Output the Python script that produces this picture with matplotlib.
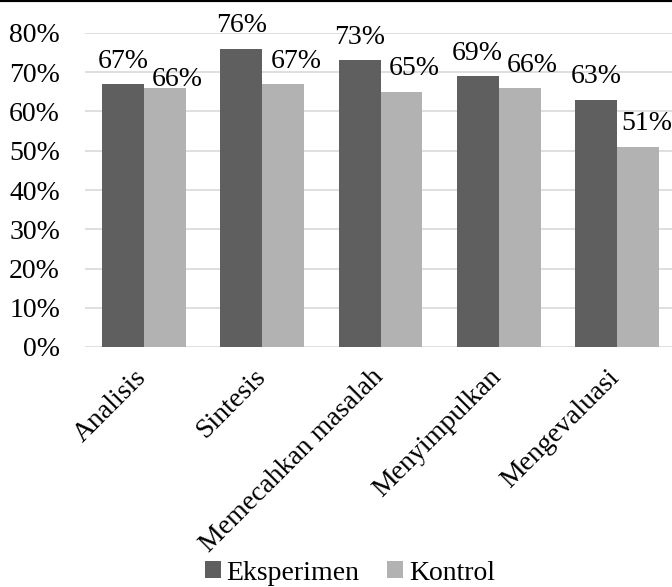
import matplotlib
matplotlib.use("Agg")
import matplotlib.pyplot as plt
import numpy as np
from matplotlib.ticker import FuncFormatter
import matplotlib.transforms as mtransforms

categories = ["Analisis", "Sintesis", "Memecahkan masalah", "Menyimpulkan", "Mengevaluasi"]
eksperimen = [67, 76, 73, 69, 63]
kontrol = [66, 67, 65, 66, 51]
series_names = ["Eksperimen", "Kontrol"]
yticks = [0, 10, 20, 30, 40, 50, 60, 70, 80]

plt.rcParams['font.family'] = ['Liberation Serif', 'DejaVu Serif']
FS = 20

fig = plt.figure(figsize=(6.72, 5.87), dpi=100)
ax = fig.add_axes([85/672, 1-347/587, (676-85)/672, (347-33)/587])

x = np.arange(len(categories))
w = 0.355
dark = "#5f5f5f"
light = "#b2b2b2"
b1 = ax.bar(x - w/2, eksperimen, w, color=dark, label=series_names[0], zorder=3)
b2 = ax.bar(x + w/2, kontrol, w, color=light, label=series_names[1], zorder=3)

for i, (b, v) in enumerate(zip(b1, eksperimen)):
    ax.annotate(f"{v}%", (b.get_x() + b.get_width()/2, v), xytext=(0, 7.5),
                textcoords="offset points", ha="center", va="bottom",
                fontsize=FS, clip_on=False)
n = len(kontrol)
for i, (b, v) in enumerate(zip(b2, kontrol)):
    dx, dy = 9, 7.5
    # Excel moved the first label down to avoid overlapping its neighbour
    if i == 0:
        dy = -3
    # last label kept inside the chart area
    if i == n - 1:
        dx = 6.5
    ax.annotate(f"{v}%", (b.get_x() + b.get_width()/2, v), xytext=(dx, dy),
                textcoords="offset points", ha="center", va="bottom",
                fontsize=FS, clip_on=False)

ax.set_xlim(-0.5, len(categories) - 0.5)
ax.set_ylim(0, 80)
ax.set_yticks(yticks)
ax.yaxis.set_major_formatter(FuncFormatter(lambda v, p: f"{int(v)}%"))
ax.grid(axis="y", color="#d9d9d9", lw=1.2, zorder=0)
for s in ax.spines.values():
    s.set_visible(False)
ax.tick_params(axis="both", length=0, labelsize=FS)
ax.tick_params(axis="y", pad=18)
ax.set_xticks(x)
ax.set_xticklabels(categories, rotation=45, ha="right", va="center",
                   rotation_mode="anchor")
ax.tick_params(axis="x", pad=19)
offset = mtransforms.ScaledTranslation(-1/100, 0, fig.dpi_scale_trans)
for lbl in ax.get_xticklabels():
    lbl.set_transform(lbl.get_transform() + offset)

leg = fig.legend(handles=[b1, b2], labels=series_names, loc="center",
                 bbox_to_anchor=(350/672, 1-573/587), ncol=2, frameon=False,
                 fontsize=FS, handlelength=0.55, handleheight=0.55,
                 handletextpad=0.22, columnspacing=1.0, borderpad=0)

fig.add_artist(plt.Line2D([0, 1], [1, 1], transform=fig.transFigure, color="black", lw=3))

fig.savefig("out.png", dpi=100)
